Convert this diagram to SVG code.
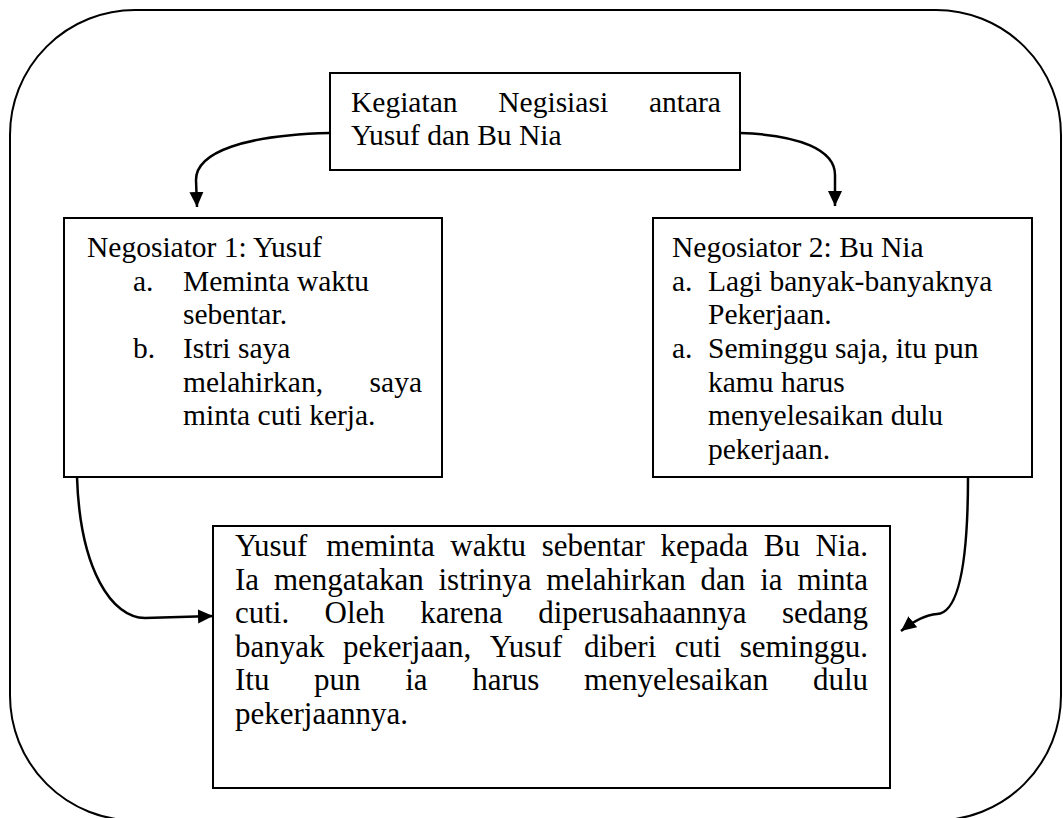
<svg xmlns="http://www.w3.org/2000/svg" width="1063" height="818" viewBox="0 0 1063 818">
<style>
.box{fill:#fff;stroke:#000;stroke-width:2}
.t{font-family:"Liberation Serif","Times New Roman",serif;font-size:29.5px;fill:#000}
.tb{font-family:"Liberation Serif","Times New Roman",serif;font-size:31px;fill:#000}
.c{fill:none;stroke:#000;stroke-width:2.5}
</style>
<defs>
<marker id="ah" markerUnits="userSpaceOnUse" markerWidth="16" markerHeight="16" viewBox="0 0 16 16" refX="15" refY="8" orient="auto">
<path d="M0,1 L15,8 L0,15 Z" fill="#000"/>
</marker>
</defs>
<rect x="0" y="0" width="1063" height="818" fill="#fff"/>
<g id="frame">
<rect x="10" y="10" width="1051" height="810.5" rx="125" ry="125" fill="none" stroke="#000" stroke-width="2"/>
</g>
<g id="connectors">
<path class="c" d="M330,133 C245,135 196,152 196,180 L197,207" marker-end="url(#ah)"/>
<path class="c" d="M740,133 C800,135 835,150 835,175 L835,206" marker-end="url(#ah)"/>
<path class="c" d="M77,477 C80,570 112,618 145,618 L213,616" marker-end="url(#ah)"/>
<path class="c" d="M968,477 C968,565 958,613 937,614 C925,615 915,620 901,631" marker-end="url(#ah)"/>
</g>
<g id="node-top">
<rect class="box" x="330" y="73" width="410" height="97"/>
<text class="t"><tspan x="351" y="111.5">Kegiatan</tspan><tspan x="498.3" y="111.5">Negisiasi</tspan><tspan x="648.9" y="111.5">antara</tspan></text>
<text class="t" x="351" y="145">Yusuf dan Bu Nia</text>
</g>
<g id="node-left">
<rect class="box" x="64" y="218" width="378" height="259"/>
<text class="t" x="87" y="257">Negosiator 1: Yusuf</text>
<text class="t"><tspan x="133" y="290.5">a.</tspan><tspan x="183" y="290.5">Meminta waktu</tspan></text>
<text class="t" x="183" y="324">sebentar.</text>
<text class="t"><tspan x="133" y="357.5">b.</tspan><tspan x="183" y="357.5">Istri saya</tspan></text>
<text class="t"><tspan x="183" y="391.5">melahirkan,</tspan><tspan x="369.6" y="391.5">saya</tspan></text>
<text class="t" x="183" y="425">minta cuti kerja.</text>
</g>
<g id="node-right">
<rect class="box" x="653" y="218" width="379" height="259"/>
<text class="t" x="672" y="257">Negosiator 2: Bu Nia</text>
<text class="t"><tspan x="672" y="290.5">a.</tspan><tspan x="708" y="290.5">Lagi banyak-banyaknya</tspan></text>
<text class="t" x="708" y="324">Pekerjaan.</text>
<text class="t"><tspan x="672" y="357.5">a.</tspan><tspan x="708" y="357.5">Seminggu saja, itu pun</tspan></text>
<text class="t" x="708" y="391.5">kamu harus</text>
<text class="t" x="708" y="425">menyelesaikan dulu</text>
<text class="t" x="708" y="458.5">pekerjaan.</text>
</g>
<g id="node-bottom">
<rect class="box" x="213" y="526" width="677" height="262"/>
<text class="tb"><tspan x="235" y="556">Yusuf</tspan><tspan x="326.3" y="556">meminta</tspan><tspan x="450.33" y="556">waktu</tspan><tspan x="541.63" y="556">sebentar</tspan><tspan x="660.45" y="556">kepada</tspan><tspan x="763.78" y="556">Bu</tspan><tspan x="815.49" y="556">Nia.</tspan></text>
<text class="tb"><tspan x="235" y="589.5">Ia</tspan><tspan x="273.9" y="589.5">mengatakan</tspan><tspan x="438.51" y="589.5">istrinya</tspan><tspan x="546.33" y="589.5">melahirkan</tspan><tspan x="700.61" y="589.5">dan</tspan><tspan x="760.19" y="589.5">ia</tspan><tspan x="797.38" y="589.5">minta</tspan></text>
<text class="tb"><tspan x="235" y="623">cuti.</tspan><tspan x="324.62" y="623">Oleh</tspan><tspan x="420.24" y="623">karena</tspan><tspan x="538.23" y="623">diperusahaannya</tspan><tspan x="781.91" y="623">sedang</tspan></text>
<text class="tb"><tspan x="235" y="656.5">banyak</tspan><tspan x="343" y="656.5">pekerjaan,</tspan><tspan x="489.71" y="656.5">Yusuf</tspan><tspan x="583.94" y="656.5">diberi</tspan><tspan x="674.72" y="656.5">cuti</tspan><tspan x="739.69" y="656.5">seminggu.</tspan></text>
<text class="tb"><tspan x="235" y="690">Itu</tspan><tspan x="314.08" y="690">pun</tspan><tspan x="405.21" y="690">ia</tspan><tspan x="472.23" y="690">harus</tspan><tspan x="584.02" y="690">menyelesaikan</tspan><tspan x="812.88" y="690">dulu</tspan></text>
<text class="tb" x="235" y="723.5">pekerjaannya.</text>
</g>
</svg>
